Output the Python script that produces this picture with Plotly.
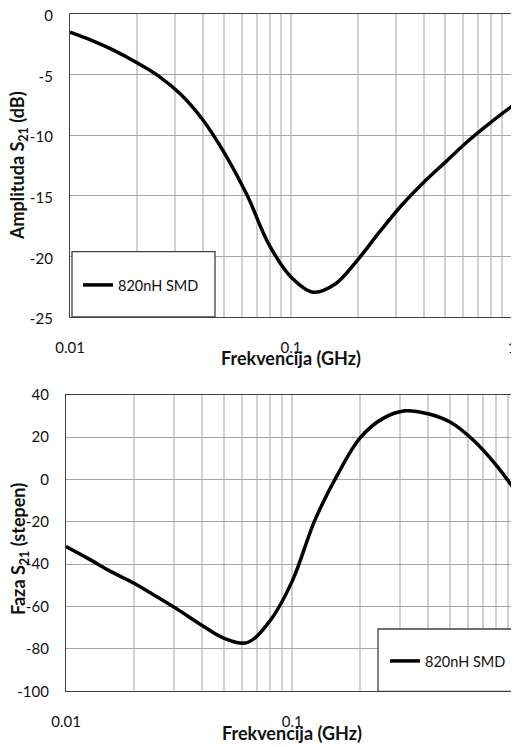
import plotly.graph_objects as go

# ---- data (at 10 points per decade) ----
freq = [0.01, 0.0126, 0.0158, 0.02, 0.0251, 0.0316, 0.0398, 0.0501, 0.0631, 0.0794, 0.1,
        0.126, 0.158, 0.2, 0.251, 0.316, 0.398, 0.501, 0.631, 0.794, 1.0]
amp_db = [-1.5, -2.2, -3.0, -4.0, -5.1, -6.6, -8.7, -11.5, -14.9, -19.0, -21.7,
          -22.95, -22.3, -20.3, -18.0, -15.8, -13.9, -12.2, -10.5, -9.0, -7.6]
phase_deg = [-31.7, -37.5, -43.5, -49.0, -55.3, -61.8, -68.8, -75.0, -77.0, -67.0, -48.0,
             -19.2, 1.9, 19.7, 28.7, 32.4, 31.0, 27.0, 18.6, 7.0, -7.3]

series_name = "820nH SMD"
x_title = "Frekvencija (GHz)"
y_title_amp = "Amplituda S<sub>21</sub> (dB)"
y_title_ph = "Faza S<sub>21</sub> (stepen)"

amp_ticks = [0, -5, -10, -15, -20, -25]
ph_ticks = [40, 20, 0, -20, -40, -60, -80, -100]

# log grid ticks 1..9 per decade
grid_vals = []
grid_text = []
for dec in [0.01, 0.1]:
    for m in range(1, 10):
        grid_vals.append(round(m * dec, 4))
        grid_text.append(str(dec) if m == 1 else "")
grid_vals.append(1)
grid_text.append("1")

W, H = 519, 747
OFF = 8  # page body margin
FONT = "Lato"
TXT = "#111111"


def px(x):
    return (x - OFF) / W


def py(y):
    return (H - (y - OFF)) / H


fig = go.Figure()
fig.add_trace(go.Scatter(x=freq, y=amp_db, mode="lines", name=series_name,
                         line=dict(color="black", width=3.5, shape="spline", smoothing=1.0),
                         xaxis="x", yaxis="y", legend="legend", showlegend=True))
fig.add_trace(go.Scatter(x=freq, y=phase_deg, mode="lines", name=series_name,
                         line=dict(color="black", width=3.5, shape="spline", smoothing=1.0),
                         xaxis="x2", yaxis="y2", legend="legend2", showlegend=True))

xcommon = dict(type="log", tickvals=grid_vals, ticktext=grid_text, automargin=False,
               showgrid=True, gridcolor="#d0d0d0", gridwidth=1.5,
               showline=True, linecolor="#404040", linewidth=1.3, mirror=True,
               ticks="", ticklabelstandoff=17, zeroline=False, ticklabeloverflow="allow",
               tickfont=dict(family=FONT, size=15, color=TXT))
ycommon = dict(showgrid=True, gridcolor="#a6a6a6", gridwidth=1.3, automargin=False,
               showline=True, linecolor="#404040", linewidth=1.3, mirror=True,
               ticks="", ticklabelstandoff=13, zeroline=False, ticklabeloverflow="allow",
               tickfont=dict(family=FONT, size=15, color=TXT))

top_b, top_t = 317, 14
bot_b, bot_t = 691.3, 394.7

fig.update_layout(
    width=W, height=H,
    margin=dict(l=0, r=0, t=0, b=0),
    showlegend=True,
    paper_bgcolor="white", plot_bgcolor="white",
    font=dict(family=FONT, color=TXT),
    xaxis=dict(xcommon, domain=[px(70), px(512)], range=[-2, 0], anchor="y"),
    yaxis=dict(ycommon, domain=[py(top_b), py(top_t)], range=[-25, 0], ticklabelshift=2,
               tickvals=amp_ticks, ticktext=[str(v) for v in amp_ticks], anchor="x"),
    xaxis2=dict(xcommon, domain=[px(66), px(518.4)], range=[-2, 0], anchor="y2"),
    yaxis2=dict(ycommon, domain=[py(bot_b), py(bot_t)], range=[-100, 40],
                tickvals=ph_ticks, ticktext=[str(v) for v in ph_ticks], anchor="x2"),
    legend=dict(x=px(78), y=py(285), xanchor="left", yanchor="middle",
                bgcolor="rgba(0,0,0,0)", borderwidth=0, visible=True,
                font=dict(family=FONT, size=14.5, color=TXT)),
    legend2=dict(x=px(385), y=py(661), xanchor="left", yanchor="middle",
                 bgcolor="rgba(0,0,0,0)", borderwidth=0, visible=True,
                 font=dict(family=FONT, size=14.5, color=TXT)),
    shapes=[
        dict(type="rect", xref="paper", yref="paper", x0=px(72), x1=px(215),
             y0=py(317), y1=py(251.7), fillcolor="white",
             line=dict(color="#404040", width=1.3), layer="above"),
        dict(type="rect", xref="paper", yref="paper", x0=px(378), x1=px(518.4),
             y0=py(691.3), y1=py(629), fillcolor="white",
             line=dict(color="#404040", width=1.3), layer="above"),
    ],
    annotations=[
        dict(text=x_title, x=px(291), y=py(358), xref="paper", yref="paper",
             showarrow=False, xanchor="center", yanchor="middle",
             font=dict(family=FONT, size=18, color=TXT, weight="bold")),
        dict(text=x_title, x=px(292), y=py(733), xref="paper", yref="paper",
             showarrow=False, xanchor="center", yanchor="middle",
             font=dict(family=FONT, size=18, color=TXT, weight="bold")),
        dict(text=y_title_amp, x=px(19), y=py(166), xref="paper", yref="paper",
             showarrow=False, xanchor="center", yanchor="middle", textangle=-90,
             font=dict(family=FONT, size=18, color=TXT, weight="bold")),
        dict(text=y_title_ph, x=px(19), y=py(549), xref="paper", yref="paper",
             showarrow=False, xanchor="center", yanchor="middle", textangle=-90,
             font=dict(family=FONT, size=18, color=TXT, weight="bold")),
    ],
)

fig.write_html("out.html")
